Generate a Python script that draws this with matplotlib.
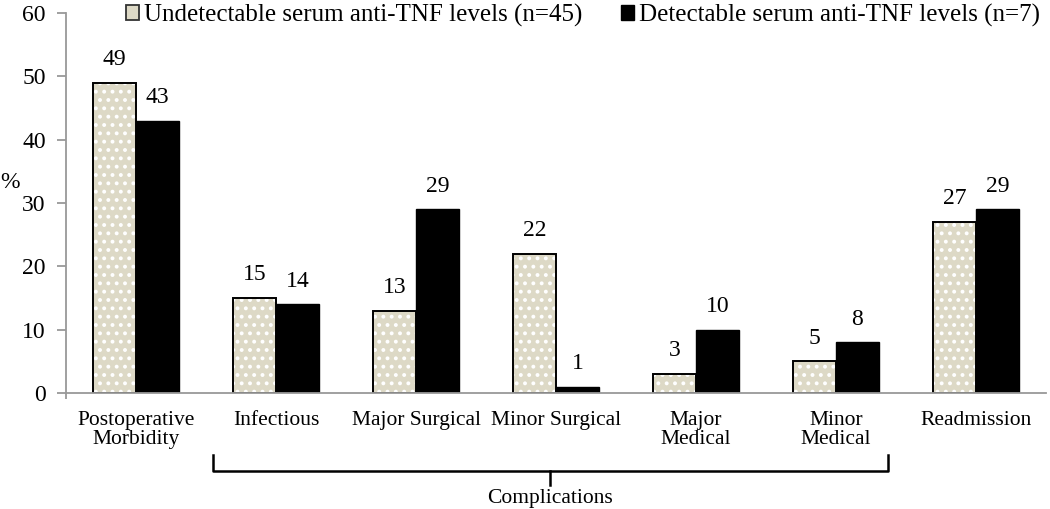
import matplotlib
matplotlib.use("Agg")
import matplotlib.pyplot as plt
import numpy as np
from matplotlib.patches import Patch
from matplotlib.lines import Line2D

categories = ["Postoperative\nMorbidity", "Infectious", "Major Surgical", "Minor Surgical",
              "Major\nMedical", "Minor\nMedical", "Readmission"]
undetectable = [49, 15, 13, 22, 3, 5, 27]
detectable = [43, 14, 29, 1, 10, 8, 29]
series_names = ["Undetectable serum anti-TNF levels (n=45)", "Detectable serum anti-TNF levels (n=7)"]
yticks = [0, 10, 20, 30, 40, 50, 60]
group_label = "Complications"

plt.rcParams['font.family'] = ['Liberation Serif', 'DejaVu Serif']
plt.rcParams['hatch.linewidth'] = 1.6

W, H = 1050, 509
fig = plt.figure(figsize=(W / 100, H / 100), dpi=100)
ax = fig.add_axes([66 / W, 1 - 393 / H, 980 / W, 380 / H])

x = np.arange(len(categories))
w = 0.307
beige = '#ddd9c6'
ax.bar(x - w/2, undetectable, w, color=beige, edgecolor='white', hatch='..', linewidth=0)
ax.bar(x - w/2, undetectable, w, facecolor='none', edgecolor='black', linewidth=1.4)
ax.bar(x + w/2, detectable, w, color='black', edgecolor='black', linewidth=1.0)

for xi, v in zip(x - w/2, undetectable):
    ax.text(xi, v + 2.0, str(v), ha='center', va='bottom', fontsize=17)
for xi, v in zip(x + w/2, detectable):
    ax.text(xi, v + 2.0, str(v), ha='center', va='bottom', fontsize=17)

ax.set_xlim(-0.5, len(categories) - 0.5)
ax.set_ylim(0, 60)
ax.set_yticks(yticks)
ax.tick_params(axis='y', labelsize=17, color='#999999', length=6.5, width=1.3, pad=8)
ax.set_xticks(x)
ax.set_xticklabels(categories, fontsize=15.5, va='top', linespacing=0.98)
ax.tick_params(axis='x', which='major', length=0, pad=13)
ax.set_xticks([-0.5], minor=True)
ax.tick_params(axis='x', which='minor', length=4, width=1.3, color='#999999')
for s in ['top', 'right']:
    ax.spines[s].set_visible(False)
for s in ['left', 'bottom']:
    ax.spines[s].set_color('#999999')
    ax.spines[s].set_linewidth(1.3)

fig.text(0.0, 1 - 183 / H, "%", fontsize=17, ha='left', va='center')

handles = [Patch(facecolor=beige, edgecolor='#333333', linewidth=1.3),
           Patch(facecolor='black', edgecolor='black')]
leg = fig.legend(handles, series_names, loc='center left', bbox_to_anchor=(126 / W, 1 - 15 / H),
                 ncol=2, frameon=False, fontsize=18, handlelength=0.52, handleheight=0.58,
                 handletextpad=0.2, columnspacing=1.55, borderaxespad=0, borderpad=0)

def fx(px):
    return px / W
def fy(py):
    return 1 - py / H
xl, xr, xc = 213, 888, 550
ytop, ymid, ybot = 455, 470.5, 485
fig.add_artist(Line2D([fx(xl), fx(xl), fx(xr), fx(xr)], [fy(ytop), fy(ymid), fy(ymid), fy(ytop)],
                      color='black', linewidth=1.8, solid_joinstyle='round'))
fig.add_artist(Line2D([fx(xc), fx(xc)], [fy(ymid), fy(ybot)], color='black', linewidth=1.8))
fig.text(fx(xc), fy(499), group_label, ha='center', va='center', fontsize=15.5)

fig.savefig("out.png", dpi=100)
